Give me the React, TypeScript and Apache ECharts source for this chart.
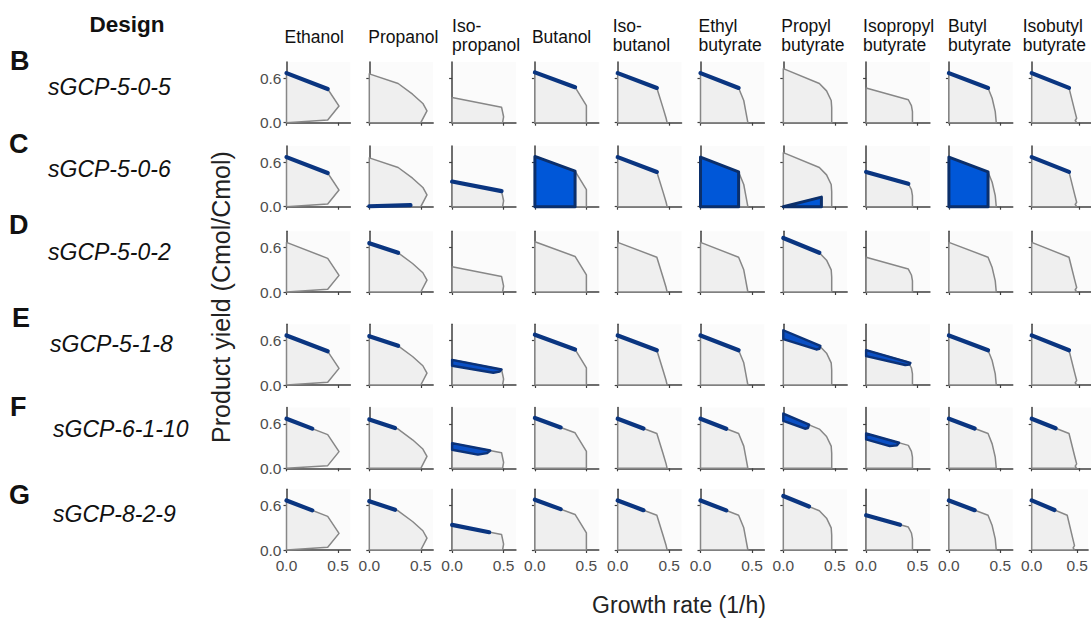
import React, { useEffect, useRef } from "react";
import * as echarts from "echarts";

// ---------------- data ----------------
const products = [
  "Ethanol", "Propanol", "Iso-propanol", "Butanol", "Iso-butanol",
  "Ethyl butyrate", "Propyl butyrate", "Isopropyl butyrate", "Butyl butyrate", "Isobutyl butyrate",
];
const titleLines = [
  ["Ethanol"], ["Propanol"], ["Iso-", "propanol"], ["Butanol"], ["Iso-", "butanol"],
  ["Ethyl", "butyrate"], ["Propyl", "butyrate"], ["Isopropyl", "butyrate"], ["Butyl", "butyrate"], ["Isobutyl", "butyrate"],
];
const designLetters = ["B", "C", "D", "E", "F", "G"];
const designNames = ["sGCP-5-0-5", "sGCP-5-0-6", "sGCP-5-0-2", "sGCP-5-1-8", "sGCP-6-1-10", "sGCP-8-2-9"];
const xTicks = [0, 0.5];
const yTicks = [0, 0.6];
const xTitle = "Growth rate (1/h)";
const yTitle = "Product yield (Cmol/Cmol)";
const headerTitle = "Design";

// production envelopes [growth rate, yield]
const envEthanol = [[0, 0.67], [0.40, 0.455], [0.51, 0.225], [0.40, 0.036], [0, 0]];
const envPropanol = [[0, 0.66], [0.28, 0.53], [0.42, 0.385], [0.52, 0.26], [0.56, 0.16], [0.50, 0], [0, 0]];
const envIsopropanol = [[0, 0.34], [0.48, 0.21], [0.50, 0.08], [0.49, 0], [0, 0]];
const envButanol = [[0, 0.68], [0.39, 0.48], [0.50, 0.23], [0.50, 0], [0, 0]];
const envIsobutanol = [[0, 0.67], [0.38, 0.47], [0.44, 0.2], [0.47, 0.06], [0.48, 0], [0, 0]];
const envEthylBut = [[0, 0.67], [0.37, 0.47], [0.42, 0.3], [0.44, 0.15], [0.46, 0], [0, 0]];
const envPropylBut = [[0, 0.73], [0.35, 0.53], [0.42, 0.43], [0.465, 0.3], [0.47, 0.2], [0.47, 0], [0, 0]];
const envIsopropylBut = [[0, 0.47], [0.41, 0.31], [0.44, 0.23], [0.45, 0.15], [0.45, 0], [0, 0]];
const envButylBut = [[0, 0.67], [0.38, 0.47], [0.42, 0.33], [0.45, 0.15], [0.46, 0], [0, 0]];
const envIsobutylBut = [[0, 0.67], [0.39, 0.47], [0.45, 0.16], [0.47, 0.06], [0.455, 0.03], [0.47, 0], [0, 0]];
const envelopes = [
  envEthanol, envPropanol, envIsopropanol, envButanol, envIsobutanol,
  envEthylBut, envPropylBut, envIsopropylBut, envButylBut, envIsobutylBut,
];

type HL = null | { kind: "line" | "fill" | "band"; pts: number[][] };
const L = (pts: number[][]): HL => ({ kind: "line", pts });
const F = (pts: number[][]): HL => ({ kind: "fill", pts });
const Bd = (pts: number[][]): HL => ({ kind: "band", pts });

const rowB: HL[] = [
  L([[0, 0.67], [0.40, 0.455]]), null, null, L([[0, 0.68], [0.39, 0.48]]), L([[0, 0.67], [0.38, 0.47]]),
  L([[0, 0.67], [0.37, 0.47]]), null, null, L([[0, 0.67], [0.38, 0.47]]), L([[0, 0.67], [0.39, 0.47]]),
];
const rowC: HL[] = [
  L([[0, 0.67], [0.40, 0.455]]), L([[0, 0.006], [0.40, 0.02]]), L([[0, 0.34], [0.48, 0.21]]),
  F([[0, 0], [0, 0.68], [0.39, 0.48], [0.39, 0]]), L([[0, 0.67], [0.38, 0.47]]),
  F([[0, 0], [0, 0.67], [0.37, 0.47], [0.37, 0]]), F([[0, 0], [0.37, 0.13], [0.37, 0]]),
  L([[0, 0.47], [0.41, 0.31]]), F([[0, 0], [0, 0.67], [0.38, 0.47], [0.38, 0]]), L([[0, 0.67], [0.39, 0.47]]),
];
const rowD: HL[] = [
  null, L([[0, 0.66], [0.28, 0.53]]), null, null, null,
  null, L([[0, 0.73], [0.35, 0.53]]), null, null, null,
];
const rowE: HL[] = [
  L([[0, 0.67], [0.40, 0.455]]), L([[0, 0.66], [0.28, 0.53]]),
  Bd([[0, 0.34], [0.48, 0.21], [0.46, 0.18], [0.40, 0.165], [0, 0.26]]),
  L([[0, 0.68], [0.39, 0.48]]), L([[0, 0.67], [0.38, 0.47]]), L([[0, 0.67], [0.37, 0.47]]),
  Bd([[0, 0.74], [0.36, 0.53], [0.35, 0.49], [0.32, 0.48], [0, 0.62]]),
  Bd([[0, 0.47], [0.43, 0.30], [0.42, 0.275], [0.38, 0.27], [0, 0.39]]),
  L([[0, 0.67], [0.38, 0.47]]), L([[0, 0.67], [0.39, 0.47]]),
];
const rowF: HL[] = [
  L([[0, 0.67], [0.25, 0.536]]), L([[0, 0.66], [0.25, 0.544]]),
  Bd([[0, 0.34], [0.37, 0.24], [0.34, 0.205], [0.25, 0.185], [0, 0.25]]),
  L([[0, 0.68], [0.25, 0.552]]), L([[0, 0.67], [0.25, 0.538]]), L([[0, 0.67], [0.25, 0.535]]),
  Bd([[0, 0.74], [0.25, 0.59], [0.24, 0.545], [0.21, 0.535], [0, 0.64]]),
  Bd([[0, 0.47], [0.32, 0.345], [0.30, 0.31], [0.23, 0.30], [0, 0.39]]),
  L([[0, 0.67], [0.25, 0.538]]), L([[0, 0.67], [0.25, 0.541]]),
];
const rowG: HL[] = [
  L([[0, 0.67], [0.25, 0.536]]), L([[0, 0.66], [0.25, 0.544]]), L([[0, 0.34], [0.36, 0.24]]),
  L([[0, 0.68], [0.25, 0.552]]), L([[0, 0.67], [0.25, 0.538]]), L([[0, 0.67], [0.25, 0.535]]),
  L([[0, 0.73], [0.25, 0.587]]), L([[0, 0.47], [0.33, 0.341]]),
  L([[0, 0.67], [0.25, 0.538]]), L([[0, 0.67], [0.25, 0.541]]),
];
const highlights = [rowB, rowC, rowD, rowE, rowF, rowG];

// ---------------- layout ----------------
const W = 1091;
const H = 618;
const colX0 = 286.5;
const colStep = 82.8;
const rowZeroY = [122.7, 206.7, 292, 385, 468.3, 550];
const pxPerX = 103;
const pxPerY = 74;
const xMax = 0.62;
const yMax = 0.82;
const titleOffset = [-2, -1, 0, -3, -5, -2, -2, -3, -1, -9];
const FONT = '"Liberation Sans", Arial, Helvetica, sans-serif';

const C_ENV_FILL = "#efefef";
const C_ENV_LINE = "#878787";
const C_NAVY = "#0a3580";
const C_BLUE = "#0057d8";
const C_FILL_EDGE = "#0b2f6b";
const C_AXIS = "#3f3f3f";

function buildOption() {
  const grid: any[] = [];
  const xAxis: any[] = [];
  const yAxis: any[] = [];
  const series: any[] = [];
  const graphic: any[] = [];
  const nRows = designNames.length;
  const nCols = products.length;
  const gw = xMax * pxPerX;
  const gh = yMax * pxPerY;

  for (let r = 0; r < nRows; r++) {
    for (let c = 0; c < nCols; c++) {
      const idx = r * nCols + c;
      const left = colX0 + colStep * c;
      const top = rowZeroY[r] - gh;
      grid.push({
        left, top, width: gw, height: gh,
        show: true, backgroundColor: "#fbfbfb", borderWidth: 0,
        containLabel: false,
      });
      xAxis.push({
        type: "value", gridIndex: idx, min: 0, max: xMax,
        axisLine: { show: true, onZero: false, lineStyle: { color: C_AXIS, width: 1.5 } },
        axisTick: { show: true, length: 3, customValues: xTicks, lineStyle: { color: C_AXIS, width: 1.2 } },
        axisLabel: {
          show: r === nRows - 1, customValues: xTicks,
          formatter: (v: number) => v.toFixed(1),
          fontSize: 15.5, color: "#4d4d4d", fontFamily: FONT, margin: 7,
        },
        splitLine: { show: false },
      });
      yAxis.push({
        type: "value", gridIndex: idx, min: 0, max: yMax,
        axisLine: { show: true, onZero: false, lineStyle: { color: C_AXIS, width: 1.5 } },
        axisTick: { show: true, length: 3, customValues: yTicks, lineStyle: { color: C_AXIS, width: 1.2 } },
        axisLabel: {
          show: c === 0, customValues: yTicks,
          formatter: (v: number) => v.toFixed(1),
          fontSize: 15.5, color: "#4d4d4d", fontFamily: FONT, margin: 5,
        },
        splitLine: { show: false },
      });
      const env = envelopes[c];
      const hl = highlights[r][c];
      series.push({
        type: "custom",
        name: products[c] + " / " + designNames[r],
        xAxisIndex: idx,
        yAxisIndex: idx,
        coordinateSystem: "cartesian2d",
        clip: false,
        silent: true,
        data: [[0, 0]],
        renderItem: (_params: any, api: any) => {
          const children: any[] = [];
          children.push({
            type: "polygon",
            shape: { points: env.map((p) => api.coord(p)) },
            style: { fill: C_ENV_FILL, stroke: C_ENV_LINE, lineWidth: 1.5, lineJoin: "round" },
          });
          if (hl) {
            const pts = hl.pts.map((p) => api.coord(p));
            if (hl.kind === "line") {
              children.push({
                type: "polyline",
                shape: { points: pts },
                style: { fill: "none", stroke: C_NAVY, lineWidth: 4.2, lineCap: "round" },
              });
            } else if (hl.kind === "fill") {
              children.push({
                type: "polygon",
                shape: { points: pts },
                style: { fill: C_BLUE, stroke: C_FILL_EDGE, lineWidth: 3, lineJoin: "round" },
              });
            } else {
              children.push({
                type: "polygon",
                shape: { points: pts },
                style: { fill: "#0a4fc4", stroke: "#0b3278", lineWidth: 2.4, lineJoin: "round" },
              });
            }
          }
          return { type: "group", children };
        },
      });
    }
  }

  // column titles
  for (let c = 0; c < nCols; c++) {
    const lines = titleLines[c];
    const x = colX0 + colStep * c + titleOffset[c];
    const ys = lines.length === 1 ? [37] : [26, 45];
    lines.forEach((t, k) => {
      graphic.push({
        type: "text", x, y: ys[k],
        style: {
          text: t, font: `17.5px ${FONT}`, fill: "#111",
          align: "left", verticalAlign: "middle", textAlign: "left", textVerticalAlign: "middle",
        },
      });
    });
  }
  // row labels
  const letterX = [10, 9, 9, 12, 10, 9];
  const letterY = [61, 144, 225, 318, 407, 495];
  const nameX = [48, 48, 48, 50, 53, 53];
  const nameY = [87, 169, 252, 344, 429, 514];
  for (let r = 0; r < nRows; r++) {
    graphic.push({
      type: "text", x: letterX[r], y: letterY[r],
      style: {
        text: designLetters[r], font: `bold 27px ${FONT}`, fill: "#111",
        align: "left", verticalAlign: "middle", textAlign: "left", textVerticalAlign: "middle",
      },
    });
    graphic.push({
      type: "text", x: nameX[r], y: nameY[r],
      style: {
        text: designNames[r], font: `italic 23px ${FONT}`, fill: "#111",
        align: "left", verticalAlign: "middle", textAlign: "left", textVerticalAlign: "middle",
      },
    });
  }
  graphic.push({
    type: "text", x: 127, y: 24,
    style: {
      text: headerTitle, font: `bold 22.5px ${FONT}`, fill: "#111",
      align: "center", verticalAlign: "middle", textAlign: "center", textVerticalAlign: "middle",
    },
  });
  graphic.push({
    type: "text", x: 679, y: 605,
    style: {
      text: xTitle, font: `23px ${FONT}`, fill: "#222",
      align: "center", verticalAlign: "middle", textAlign: "center", textVerticalAlign: "middle",
    },
  });
  graphic.push({
    type: "text", x: 221, y: 297, rotation: Math.PI / 2,
    style: {
      text: yTitle, font: `25px ${FONT}`, fill: "#222",
      align: "center", verticalAlign: "middle", textAlign: "center", textVerticalAlign: "middle",
    },
  });

  return {
    animation: false,
    backgroundColor: "#ffffff",
    grid, xAxis, yAxis, series, graphic,
  };
}

export default function App() {
  const ref = useRef<HTMLDivElement>(null);
  useEffect(() => {
    if (!ref.current) return;
    const chart = echarts.init(ref.current, undefined, { renderer: "svg", width: W, height: H });
    chart.setOption(buildOption() as any);
    return () => chart.dispose();
  }, []);
  return (
    <div
      ref={ref}
      style={{ position: "absolute", left: 0, top: 0, width: W, height: H, overflow: "hidden", background: "#fff" }}
    />
  );
}
